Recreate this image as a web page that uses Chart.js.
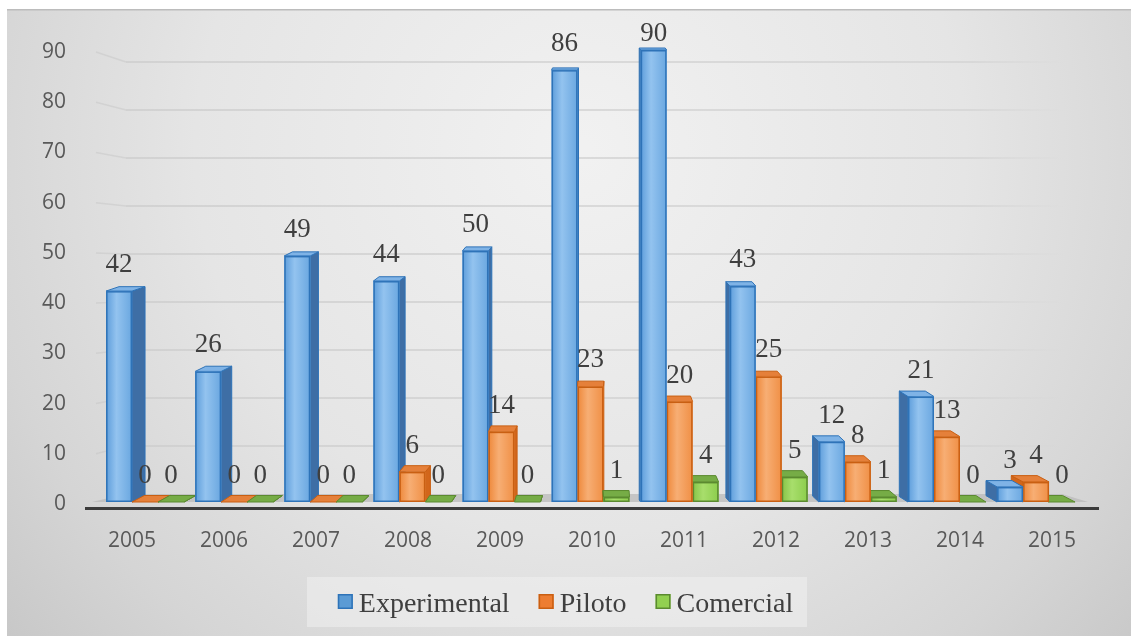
<!DOCTYPE html>
<html>
<head>
<meta charset="utf-8">
<script src="https://cdn.jsdelivr.net/npm/chart.js@4.4.0/dist/chart.umd.min.js"></script>
<style>
    html, body { margin: 0; padding: 0; background: #fff; }
    canvas { display: block; }
</style>
</head>
<body>
<canvas id="researchChart" width="1131" height="636"></canvas>
<script>
// data
const years = ["2005", "2006", "2007", "2008", "2009", "2010", "2011", "2012", "2013", "2014", "2015"]
const experimental = [42, 26, 49, 44, 50, 86, 90, 43, 12, 21, 3]
const piloto = [0, 0, 0, 6, 14, 23, 20, 25, 8, 13, 4]
const comercial = [0, 0, 0, 0, 0, 1, 4, 5, 1, 0, 0]
const seriesNames = ["Experimental", "Piloto", "Comercial"]
const yMax = 90
const yStep = 10

// colours for the fake 3d look
const palette = [
    { base: "#5b9bd5", front: ["#5d9ddb", "#93c3ef", "#6aa7e0"], edge: "#2e73b8", side: "#3e6ea5", top: "#7fb3e6" },
    { base: "#ed7d31", front: ["#ee883a", "#f7ae74", "#f08f45"], edge: "#c95f12", side: "#d2661b", top: "#e5803a" },
    { base: "#92d050", front: ["#86c447", "#a8de6c", "#8ccd4c"], edge: "#5b8a30", side: "#6a9a39", top: "#76ac46" }
]

const labelColor = "#3f3f3f"
const tickColor = "#595959"
const vanishX = 600

// bars are squeezed a little towards the middle, like excel's perspective does
function projX(x) {
    return 17.2 + 0.9685 * x
}

function backY(yFront) {
    return 14.2 + 0.956 * yFront
}

const backgroundPlugin = {
    id: "panelBackground",
    beforeDraw(chart) {
        const ctx = chart.ctx
        ctx.save()
        ctx.fillStyle = "#ffffff"
        ctx.fillRect(0, 0, chart.width, chart.height)
        const g = ctx.createRadialGradient(580, 150, 10, 580, 150, 760)
        g.addColorStop(0, "#f1f1f1")
        g.addColorStop(0.5, "#e5e5e5")
        g.addColorStop(0.8, "#d5d5d5")
        g.addColorStop(1, "#c7c7c7")
        ctx.fillStyle = g
        ctx.fillRect(7, 9, chart.width - 7, chart.height - 9)
        ctx.fillStyle = "#bcbcbc"
        ctx.fillRect(7, 9, chart.width - 7, 1.5)
        ctx.restore()
    }
}

const bars3dPlugin = {
    id: "bars3d",
    beforeDatasetsDraw(chart) {
        const ctx = chart.ctx
        const area = chart.chartArea
        const yScale = chart.scales.y
        ctx.save()

        // back wall gridlines with a little side wall piece
        for (let v = yStep; v <= yMax; v += yStep) {
            const yF = yScale.getPixelForValue(v)
            const yB = backY(yF)
            ctx.strokeStyle = "rgba(195,195,195,0.45)"
            ctx.lineWidth = 1.5
            ctx.beginPath()
            ctx.moveTo(area.left + 10, yF + 2)
            ctx.lineTo(area.left + 40, yB)
            ctx.stroke()
            const lg = ctx.createLinearGradient(area.left + 40, 0, 1065, 0)
            lg.addColorStop(0, "rgba(205,205,205,1)")
            lg.addColorStop(0.9, "rgba(210,210,210,0.9)")
            lg.addColorStop(1, "rgba(210,210,210,0)")
            ctx.strokeStyle = lg
            ctx.beginPath()
            ctx.moveTo(area.left + 40, yB)
            ctx.lineTo(1065, yB)
            ctx.stroke()
        }

        // floor
        const base = yScale.getPixelForValue(0)
        const floorBack = backY(base)
        ctx.fillStyle = "rgba(185,185,185,0.75)"
        ctx.beginPath()
        ctx.moveTo(area.left + 6, base)
        ctx.lineTo(area.right - 10, base)
        ctx.lineTo(1062, floorBack)
        ctx.lineTo(area.left + 40, floorBack)
        ctx.closePath()
        ctx.fill()

        // bars
        const metas = [0, 1, 2].map(i => chart.getDatasetMeta(i))
        for (let i = 0; i < years.length; i++) {
            const first = projX(metas[0].data[i].x)
            let order = first < vanishX ? [0, 1, 2] : [2, 1, 0]
            for (let d of order) {
                drawBar(ctx, metas[d].data[i], palette[d])
            }
        }

        // value labels
        ctx.font = '27px "Liberation Serif", "Times New Roman", serif'
        ctx.fillStyle = labelColor
        ctx.textAlign = "center"
        ctx.textBaseline = "alphabetic"
        for (let d = 0; d < 3; d++) {
            const values = chart.data.datasets[d].data
            metas[d].data.forEach((bar, i) => {
                const xc = projX(bar.x)
                const top = Math.min(bar.y, bar.base)
                //keep the top label inside the panel
                const yText = Math.max(top - 19, 41)
                ctx.fillText(String(values[i]), xc, yText)
            })
        }

        // axis line in front of the floor
        ctx.fillStyle = "#3b3b3b"
        ctx.fillRect(area.left - 1, base + 5, area.right - area.left + 2, 3)

        ctx.restore()
        return false
    }
}

function drawBar(ctx, bar, col) {
    const w = bar.width * 0.9685
    const xc = projX(bar.x)
    const x0 = xc - w / 2
    const x1 = xc + w / 2
    const base = bar.base
    const top = Math.min(bar.y, bar.base)
    let dx = (vanishX - xc) * 0.027
    const dy = -(2 + 4.5 * (top - 50) / 452)

    // side face
    ctx.fillStyle = col.side
    ctx.strokeStyle = col.edge
    ctx.lineWidth = 1
    ctx.beginPath()
    if (dx > 0) {
        ctx.moveTo(x1, top)
        ctx.lineTo(x1 + dx, top + dy)
        ctx.lineTo(x1 + dx, base + dy)
        ctx.lineTo(x1, base)
    } else {
        ctx.moveTo(x0, top)
        ctx.lineTo(x0 + dx, top + dy)
        ctx.lineTo(x0 + dx, base + dy)
        ctx.lineTo(x0, base)
    }
    ctx.closePath()
    ctx.fill()
    ctx.stroke()

    // top face
    ctx.fillStyle = col.top
    ctx.beginPath()
    ctx.moveTo(x0, top)
    ctx.lineTo(x1, top)
    ctx.lineTo(x1 + dx, top + dy)
    ctx.lineTo(x0 + dx, top + dy)
    ctx.closePath()
    ctx.fill()
    ctx.stroke()

    // front face
    if (base - top > 0.5) {
        const g = ctx.createLinearGradient(x0, 0, x1, 0)
        g.addColorStop(0, col.front[0])
        g.addColorStop(0.4, col.front[1])
        g.addColorStop(1, col.front[2])
        ctx.fillStyle = g
        ctx.fillRect(x0, top, w, base - top)
        ctx.lineWidth = 1.5
        ctx.strokeRect(x0 + 0.75, top + 0.75, w - 1.5, base - top - 1.5)
    }
}

const legendPlugin = {
    id: "boxLegend",
    afterDraw(chart) {
        const ctx = chart.ctx
        ctx.save()
        ctx.fillStyle = "rgba(240,240,240,0.55)"
        ctx.fillRect(307, 577, 500, 50)

        ctx.font = '28px "Liberation Serif", "Times New Roman", serif'
        const box = 15
        const gapText = 6
        const gapItem = 29
        let total = 0
        const widths = seriesNames.map(n => ctx.measureText(n).width)
        widths.forEach((tw, i) => {
            total += box + gapText + tw + (i < widths.length - 1 ? gapItem : 0)
        })
        let x = 565.5 - total / 2
        const baseline = 612
        ctx.textAlign = "left"
        ctx.textBaseline = "alphabetic"
        seriesNames.forEach((name, i) => {
            ctx.fillStyle = palette[i].base
            ctx.fillRect(x, 594, box, box)
            ctx.strokeStyle = palette[i].edge
            ctx.lineWidth = 1.5
            ctx.strokeRect(x + 0.75, 594.75, box - 1.5, box - 1.5)
            ctx.fillStyle = labelColor
            ctx.fillText(name, x + box + gapText, baseline)
            x += box + gapText + widths[i] + gapItem
        })
        ctx.restore()
    }
}

const chart = new Chart(document.getElementById("researchChart"), {
    type: "bar",
    data: {
        labels: years,
        datasets: [
            { label: seriesNames[0], data: experimental, backgroundColor: palette[0].base },
            { label: seriesNames[1], data: piloto, backgroundColor: palette[1].base },
            { label: seriesNames[2], data: comercial, backgroundColor: palette[2].base }
        ]
    },
    options: {
        responsive: false,
        animation: false,
        devicePixelRatio: 1,
        datasets: {
            bar: {
                categoryPercentage: 0.875,
                barPercentage: 1
            }
        },
        layout: {
            padding: { left: 0, right: 33, top: 50, bottom: 0 }
        },
        scales: {
            x: {
                grid: { display: false, drawTicks: false },
                border: { display: false },
                ticks: {
                    color: tickColor,
                    font: { family: "Open Sans", size: 21 },
                    padding: 26,
                    maxRotation: 0
                },
                afterFit(scale) {
                    scale.height = 134
                }
            },
            y: {
                min: 0,
                max: yMax,
                grid: { display: false, drawTicks: false },
                border: { display: false },
                ticks: {
                    stepSize: yStep,
                    color: tickColor,
                    font: { family: "Open Sans", size: 21 },
                    padding: 20,
                    labelOffset: 2
                },
                afterFit(scale) {
                    scale.width = 86
                }
            }
        },
        plugins: {
            legend: { display: false },
            tooltip: { enabled: false }
        }
    },
    plugins: [backgroundPlugin, bars3dPlugin, legendPlugin]
})
</script>
</body>
</html>
